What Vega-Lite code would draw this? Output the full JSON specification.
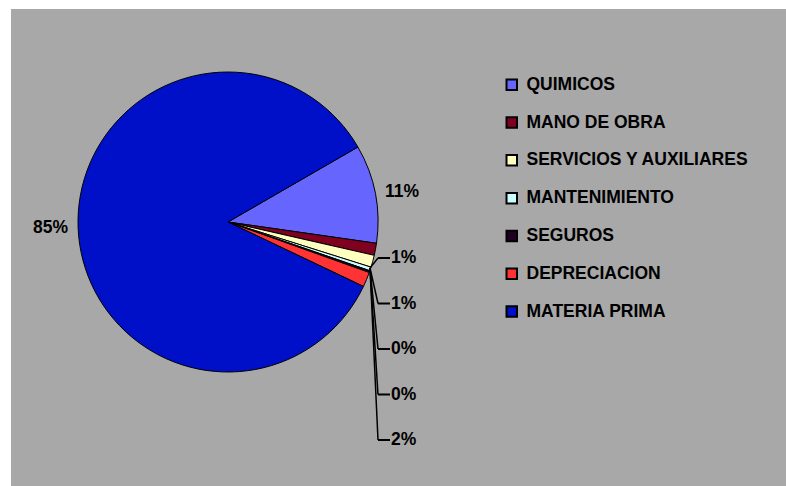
{
  "$schema": "https://vega.github.io/schema/vega-lite/v6.json",
  "autosize": "none",
  "width": 775,
  "height": 477,
  "padding": {"left": 11, "top": 9, "right": 0, "bottom": 0},
  "background": "white",
  "config": {
    "view": {"fill": "#a8a8a8", "stroke": null},
    "legend": {
      "symbolType": "square",
      "symbolSize": 110,
      "symbolStrokeColor": "black",
      "symbolStrokeWidth": 2,
      "labelFont": "Liberation Sans",
      "labelFontWeight": "bold",
      "labelFontSize": 17.5,
      "labelColor": "black",
      "rowPadding": 18.8,
      "labelOffset": 6,
      "padding": 0,
      "labelLimit": 400
    },
    "text": {"font": "Liberation Sans", "fontWeight": "bold", "fontSize": 17.5, "color": "black"}
  },
  "data": {
    "values": [
      {"cat": "QUIMICOS", "value": 0.106, "idx": 1},
      {"cat": "MANO DE OBRA", "value": 0.013, "idx": 2},
      {"cat": "SERVICIOS Y AUXILIARES", "value": 0.013, "idx": 3},
      {"cat": "MANTENIMIENTO", "value": 0.004, "idx": 4},
      {"cat": "SEGUROS", "value": 0.002, "idx": 5},
      {"cat": "DEPRECIACION", "value": 0.016, "idx": 6},
      {"cat": "MATERIA PRIMA", "value": 0.846, "idx": 7}
    ]
  },
  "layer": [
    {
      "mark": {"type": "arc", "radius": 150, "stroke": "black", "strokeWidth": 1},
      "encoding": {
        "x": {"value": 217},
        "y": {"value": 213},
        "theta": {"field": "value", "type": "quantitative", "stack": true, "scale": {"range": [1.0472, 7.3304]}},
        "order": {"field": "idx", "type": "quantitative"},
        "color": {
          "field": "cat",
          "type": "nominal",
          "scale": {
            "domain": ["QUIMICOS", "MANO DE OBRA", "SERVICIOS Y AUXILIARES", "MANTENIMIENTO", "SEGUROS", "DEPRECIACION", "MATERIA PRIMA"],
            "range": ["#6666ff", "#800020", "#ffffc0", "#ccffff", "#200020", "#ff3333", "#0010c8"]
          },
          "legend": {"title": null, "orient": "none", "legendX": 492, "legendY": 67}
        }
      }
    },
    {
      "mark": {"type": "text", "radius": 160, "align": "right", "baseline": "middle"},
      "encoding": {
        "x": {"value": 217},
        "y": {"value": 213},
        "theta": {"field": "value", "type": "quantitative", "stack": true, "scale": {"range": [1.0472, 7.3304]}},
        "order": {"field": "idx", "type": "quantitative"},
        "text": {"condition": {"test": "datum.cat === 'MATERIA PRIMA'", "field": "value", "format": ".0%"}, "value": ""}
      }
    },
    {
      "mark": {"type": "text", "radius": 160, "align": "left", "baseline": "middle"},
      "encoding": {
        "x": {"value": 217},
        "y": {"value": 213},
        "theta": {"field": "value", "type": "quantitative", "stack": true, "scale": {"range": [1.0472, 7.3304]}},
        "order": {"field": "idx", "type": "quantitative"},
        "text": {"condition": {"test": "datum.cat === 'QUIMICOS'", "field": "value", "format": ".0%"}, "value": ""}
      }
    },
    {
      "transform": [{"filter": "datum.idx >= 2 && datum.idx <= 6"}],
      "mark": {"type": "rule", "color": "black", "strokeWidth": 2},
      "encoding": {
        "x": {"value": 367},
        "x2": {"value": 379},
        "y": {"field": "cat", "type": "nominal", "axis": null,
              "scale": {"type": "point", "domain": ["MANO DE OBRA", "SERVICIOS Y AUXILIARES", "MANTENIMIENTO", "SEGUROS", "DEPRECIACION"], "range": [249, 431], "padding": 0}}
      }
    },
    {
      "transform": [{"filter": "datum.idx >= 2 && datum.idx <= 6"}],
      "mark": {"type": "rule", "color": "black", "strokeWidth": 1.5},
      "encoding": {
        "x": {"value": 367},
        "x2": {"value": 359},
        "y": {"field": "cat", "type": "nominal", "axis": null},
        "y2": {"value": 259}
      }
    },
    {
      "transform": [{"filter": "datum.idx >= 2 && datum.idx <= 6"}],
      "mark": {"type": "text", "align": "left", "baseline": "middle", "dx": 1},
      "encoding": {
        "x": {"value": 379},
        "y": {"field": "cat", "type": "nominal", "axis": null},
        "text": {"field": "value", "type": "quantitative", "format": ".0%"}
      }
    }
  ]
}
